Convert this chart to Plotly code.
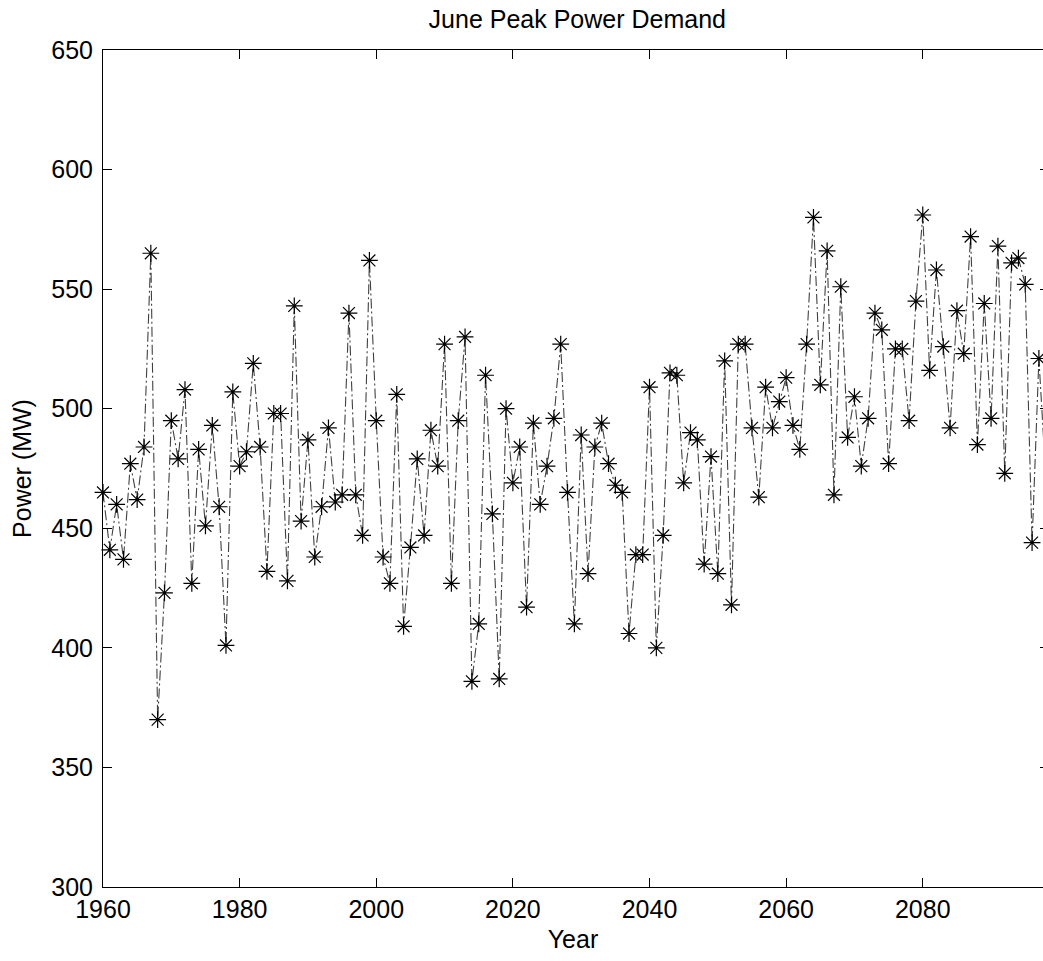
import plotly.graph_objects as go

# Data
years = list(range(1960, 2099))
power_mw = [
    465, 441, 460, 437, 477, 462, 484, 565, 370, 423,   # 1960-1969
    495, 479, 508, 427, 483, 451, 493, 459, 401, 507,   # 1970-1979
    476, 482, 519, 484, 432, 498, 498, 428, 543, 453,   # 1980-1989
    487, 438, 459, 492, 461, 464, 540, 464, 447, 562,   # 1990-1999
    495, 438, 427, 506, 409, 442, 479, 447, 491, 476,   # 2000-2009
    527, 427, 495, 530, 386, 410, 514, 456, 387, 500,   # 2010-2019
    469, 484, 417, 494, 460, 476, 496, 527, 465, 410,   # 2020-2029
    489, 431, 484, 494, 477, 468, 465, 406, 439, 439,   # 2030-2039
    509, 400, 447, 515, 514, 469, 490, 487, 435, 480,   # 2040-2049
    431, 520, 418, 527, 527, 492, 463, 509, 492, 503,   # 2050-2059
    513, 493, 483, 527, 580, 510, 566, 464, 551, 488,   # 2060-2069
    505, 476, 496, 540, 533, 477, 525, 525, 495, 545,   # 2070-2079
    581, 516, 558, 526, 492, 541, 523, 572, 485, 544,   # 2080-2089
    496, 568, 473, 561, 563, 552, 444, 521, 472,        # 2090-2098
]

x_ticks = [1960, 1980, 2000, 2020, 2040, 2060, 2080]
y_ticks = [300, 350, 400, 450, 500, 550, 600, 650]

FONT = "Liberation Sans, Arial, Helvetica, sans-serif"

fig = go.Figure()
fig.add_trace(go.Scatter(
    x=years, y=power_mw, mode="lines+markers",
    line=dict(color="#404040", width=1.1, dash="10px,3px,2px,3px"),
    marker=dict(symbol="asterisk-open", size=14, color="black",
                line=dict(color="black", width=1.2)),
    cliponaxis=False, showlegend=False,
))
# helper trace so the right-hand (mirrored tick) axis is rendered
fig.add_trace(go.Scatter(x=[None], y=[None], yaxis="y2", showlegend=False))

fig.update_layout(
    width=1043, height=961,
    margin=dict(l=103, r=0, t=50, b=74),
    paper_bgcolor="white", plot_bgcolor="white",
    font=dict(family=FONT, size=25, color="black"),
    title=dict(text="June Peak Power Demand", x=0.5535, xanchor="center",
               y=1 - 19 / 961, yref="container", yanchor="middle",
               font=dict(size=25, color="black")),
    xaxis=dict(range=[1960, 2097.6], tickvals=x_ticks, ticks="inside",
               ticklen=9, tickwidth=1, tickcolor="black",
               showline=True, linecolor="black", linewidth=1,
               mirror="ticks", showgrid=False, zeroline=False,
               title=dict(text="Year", standoff=8, font=dict(size=25)),
               tickfont=dict(size=25)),
    yaxis=dict(range=[300, 650], tickvals=y_ticks, ticks="inside",
               ticklen=9, tickwidth=1, tickcolor="black",
               showline=True, linecolor="black", linewidth=1,
               mirror=False, showgrid=False, zeroline=False,
               ticklabelstandoff=4,
               title=dict(text="Power (MW)", standoff=12, font=dict(size=25)),
               tickfont=dict(size=25)),
    yaxis2=dict(range=[300, 650], tickvals=y_ticks, overlaying="y",
                side="right", anchor="x", ticks="inside", ticklen=3,
                tickwidth=1, tickcolor="black", showticklabels=False,
                showline=False, showgrid=False, zeroline=False),
)

fig.write_html("out.html")
